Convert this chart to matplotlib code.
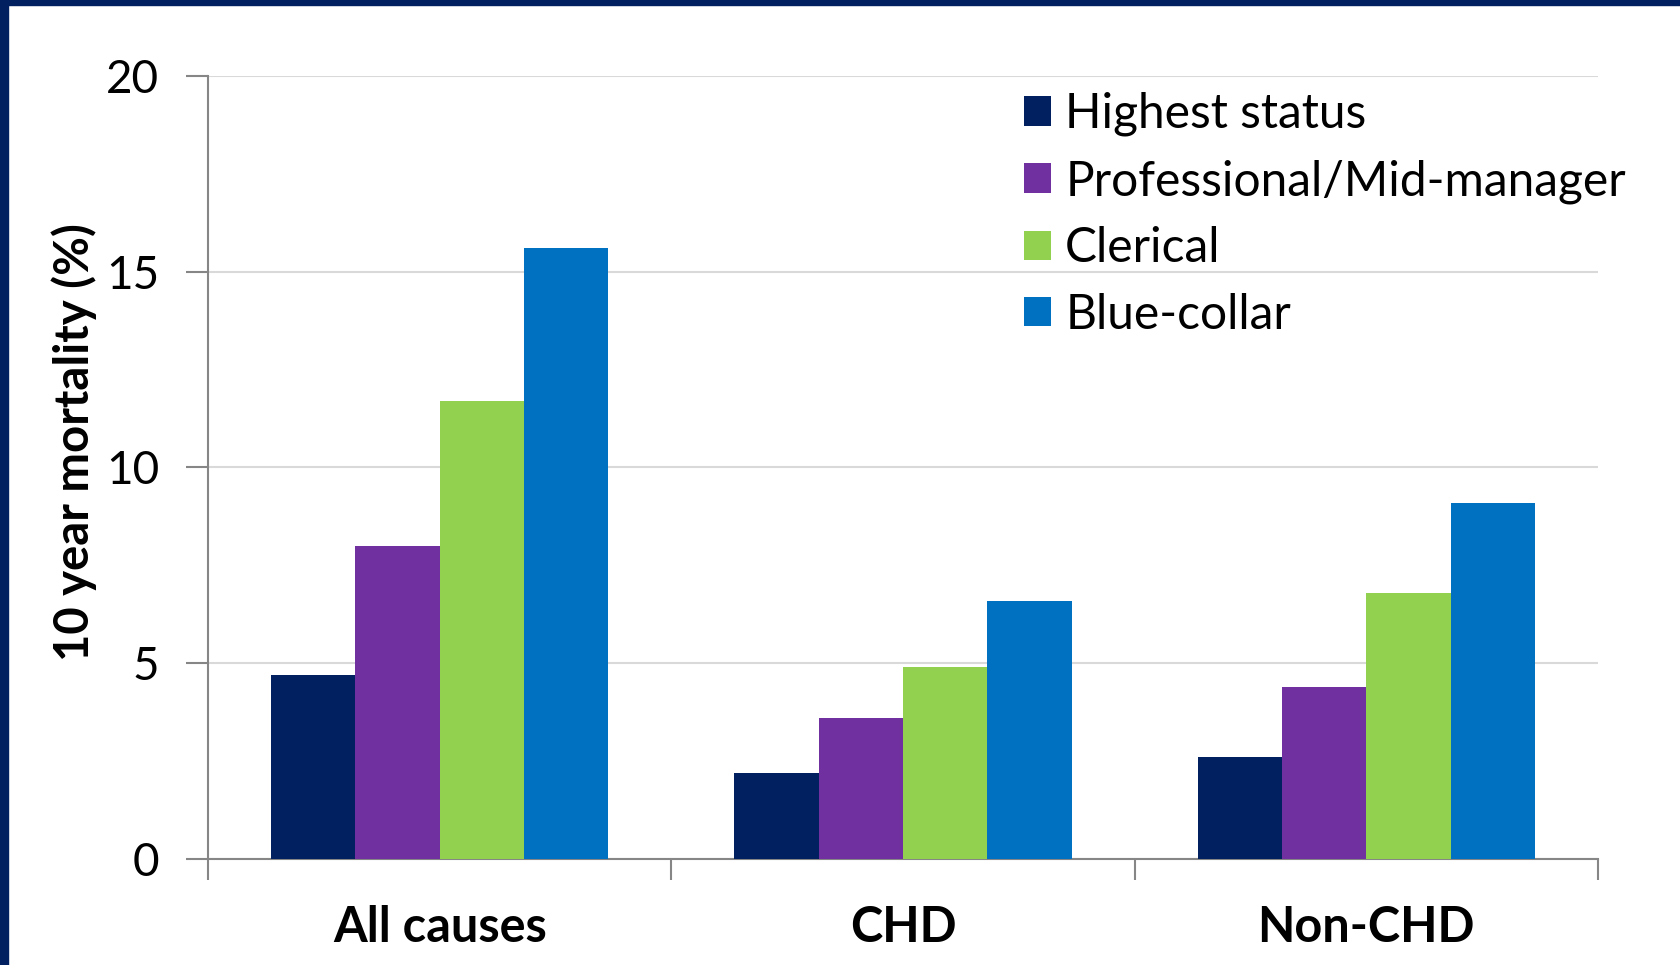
import numpy as np
import matplotlib.pyplot as plt
from matplotlib.patches import Rectangle

plt.rcParams['font.family'] = ['Lato', 'DejaVu Sans']

# 10 year mortality (%) by cause of death and employment grade
causes = ['All causes', 'CHD', 'Non-CHD']
grades = ['Highest status', 'Professional/Mid-manager', 'Clerical', 'Blue-collar']
highest = [4.7, 2.2, 2.6]
professional = [8.0, 3.6, 4.4]
clerical = [11.7, 4.9, 6.8]
blue_collar = [15.6, 6.6, 9.1]
colors = ['#002060', '#7030A0', '#92D050', '#0070C0']

W, H = 1681, 965
fig = plt.figure(figsize=(W / 100, H / 100), dpi=100)
fig.patch.set_facecolor('white')

# navy frame strips along the top and left edges
fig.patches.append(Rectangle((0, 1 - 5 / H), 1, 5 / H, transform=fig.transFigure,
                             color='#002060', zorder=10))
fig.patches.append(Rectangle((0, 0), 8 / W, 1, transform=fig.transFigure,
                             color='#002060', zorder=10))

ax = fig.add_axes([208 / W, (H - 859) / H, (1598 - 208) / W, (859 - 76) / H])

x = np.arange(len(causes)) + 0.5
width = 0.182
series = [highest, professional, clerical, blue_collar]
for i, (vals, c, lab) in enumerate(zip(series, colors, grades)):
    ax.bar(x + (i - 1.5) * width, vals, width, color=c, label=lab, zorder=3)

ax.set_xlim(0, 3)
ax.set_ylim(0, 20)
ax.set_yticks([0, 5, 10, 15, 20])
ax.yaxis.grid(True, color='#D9D9D9', linewidth=1.5, zorder=0)

# category boundaries get tick marks, labels sit in the middle
ax.set_xticks([0, 1, 2, 3])
ax.set_xticklabels([])
ax.set_xticks(x, minor=True)
ax.set_xticklabels(causes, minor=True, fontsize=35, fontweight='bold')
ax.tick_params(axis='x', which='major', length=15, width=1.5, color='#868686')
ax.tick_params(axis='x', which='minor', length=0, pad=33)
ax.tick_params(axis='y', length=16, width=1.5, color='#868686', labelsize=33, pad=19)

for s in ['top', 'right']:
    ax.spines[s].set_visible(False)
for s in ['left', 'bottom']:
    ax.spines[s].set_color('#868686')
    ax.spines[s].set_linewidth(1.5)

ax.set_ylabel('10 year mortality (%)', fontsize=34, fontweight='bold')
ax.yaxis.set_label_coords(-0.080, 0.533)

ax.legend(loc='upper left', bbox_to_anchor=(1024 / W, 1 - 92 / H),
          bbox_transform=fig.transFigure, frameon=False, fontsize=34.5,
          handlelength=0.56, handleheight=0.56, handletextpad=0.3,
          labelspacing=0.47, borderaxespad=0, borderpad=0)

fig.savefig('out.png', dpi=100)
